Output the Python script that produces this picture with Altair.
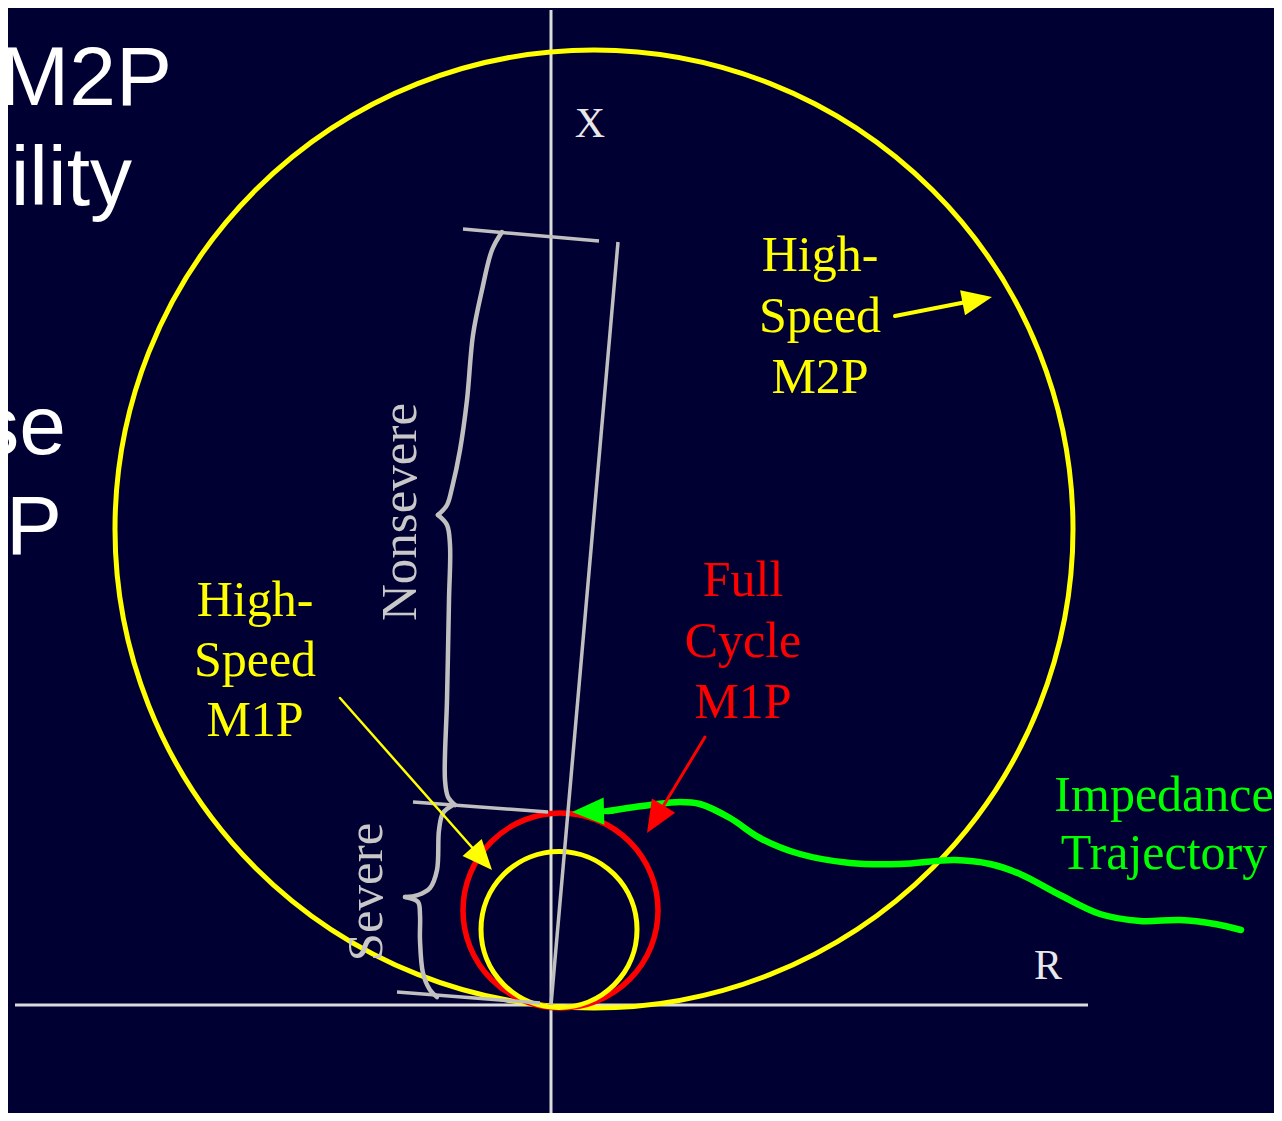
import math
import altair as alt
import pandas as pd

BG = "#000033"
YELLOW = "#ffff00"
RED = "#ff0000"
GREEN = "#00ff00"
GRAY = "#c0c0c0"
AXIS = "#dcdcdc"

# ---- geometry (pixel units, y grows downward) ----
circle_names = ["M2P", "FullCycleM1P", "HighSpeedM1P"]
circle_cx = [594, 560.5, 559]
circle_cy = [529, 910.5, 929.5]
circle_r = [479, 97.5, 78]
circle_color = [YELLOW, RED, YELLOW]
circle_width = [5, 5.5, 5]

# axes
axis_x0 = [15, 551]
axis_y0 = [1005, 10]
axis_x1 = [1088, 551]
axis_y1 = [1005, 1121]

# slanted line and ticks
seg_x0 = [551, 463, 413, 397]
seg_y0 = [1005, 229, 802, 992]
seg_x1 = [618, 599, 548, 540]
seg_y1 = [242, 241, 812, 1003]

# curly braces (four halves)
brace_parts = {
    "ns_top": [(502, 232), (492, 250), (482, 290), (473, 335), (467, 400),
               (460, 450), (452, 488), (447, 505), (438, 515)],
    "ns_bot": [(438, 515), (447, 525), (450, 545), (449, 600), (447, 700),
               (445, 780), (448, 797), (455, 805)],
    "sv_top": [(453, 805), (443, 813), (439, 830), (437, 870), (430, 888),
               (418, 895), (405, 897)],
    "sv_bot": [(405, 897), (418, 902), (420, 915), (420, 940), (423, 973),
               (430, 990), (437, 997)],
}

# impedance trajectory (from right end toward arrow)
traj_x = [1241, 1215, 1180, 1140, 1100, 1060, 1020, 990, 955, 900,
          850, 800, 760, 730, 700, 680, 650, 608]
traj_y = [930, 924, 920, 921, 914, 895, 874, 864, 860, 864,
          863, 854, 838, 818, 804, 802, 805, 811]

# arrows: tail, tip, colour, stroke width, head length
arrow_tail_x = [895, 340, 705, 612]
arrow_tail_y = [316, 698, 737, 811]
arrow_tip_x = [992, 492, 647, 572]
arrow_tip_y = [297, 870, 833, 812]
arrow_color = [YELLOW, YELLOW, RED, GREEN]
arrow_width = [4, 2.5, 3, 6]
arrow_head = [30, 30, 32, 32]

# labels
lbl_text = ["High-", "Speed", "M2P",
            "High-", "Speed", "M1P",
            "Full", "Cycle", "M1P",
            "Impedance", "Trajectory"]
lbl_x = [820, 820, 820, 255, 255, 255, 743, 743, 743, 1164, 1164]
lbl_y = [256, 317, 378, 601, 661, 721, 581, 642, 703, 796, 854]
lbl_color = [YELLOW] * 6 + [RED] * 3 + [GREEN] * 2

axis_lbl_text = ["X", "R"]
axis_lbl_x = [590, 1048]
axis_lbl_y = [124, 966]

rot_text = ["Nonsevere", "Severe"]
rot_x = [401, 367]
rot_y = [512, 892]

side_text = ["M2P", "bility", "se", "SP"]
side_x = [172, 132, 66, 62]
side_y = [105, 205, 454, 554]

# ---- build layers ----
X = alt.Scale(domain=[8, 1274], nice=False, zero=False)
Y = alt.Scale(domain=[8, 1113], nice=False, zero=False, reverse=True)


def xy(x="x", y="y"):
    return dict(x=alt.X(f"{x}:Q", scale=X, axis=None),
                y=alt.Y(f"{y}:Q", scale=Y, axis=None))


layers = []

# left slide text (cut by the edge)
side_df = pd.DataFrame({"t": side_text, "x": side_x, "y": side_y})
layers.append(alt.Chart(side_df).mark_text(font="Liberation Sans", fontSize=84, color="#ffffff",
                                           align="right", baseline="alphabetic", clip=True).encode(
    **xy(), text="t:N"))

# axes
ax_df = pd.DataFrame({"x": axis_x0, "y": axis_y0, "x2": axis_x1, "y2": axis_y1})
layers.append(alt.Chart(ax_df).mark_rule(color=AXIS, strokeWidth=3).encode(
    **xy(), x2="x2:Q", y2="y2:Q"))

# circles
for i in range(len(circle_names)):
    cdf = pd.DataFrame({"x": [circle_cx[i]], "y": [circle_cy[i]], "s": [(2 * circle_r[i]) ** 2]})
    layers.append(alt.Chart(cdf).mark_point(shape="circle", filled=False, opacity=1,
                                            color=circle_color[i], strokeWidth=circle_width[i]).encode(
        **xy(), size=alt.Size("s:Q", scale=None)))

# slanted line + ticks
seg_df = pd.DataFrame({"x": seg_x0, "y": seg_y0, "x2": seg_x1, "y2": seg_y1})
layers.append(alt.Chart(seg_df).mark_rule(color=GRAY, strokeWidth=3.5).encode(
    **xy(), x2="x2:Q", y2="y2:Q"))

# braces
rows = []
for k, pts in brace_parts.items():
    for j, (px, py) in enumerate(pts):
        rows.append({"part": k, "i": j, "x": px, "y": py})
brace_df = pd.DataFrame(rows)
layers.append(alt.Chart(brace_df).mark_line(color=GRAY, strokeWidth=4.5, interpolate="catmull-rom",
                                            strokeCap="round", strokeJoin="round").encode(
    **xy(), detail="part:N", order="i:Q"))

# trajectory
traj_df = pd.DataFrame({"x": traj_x, "y": traj_y, "i": list(range(len(traj_x)))})
layers.append(alt.Chart(traj_df).mark_line(color=GREEN, strokeWidth=6.5, interpolate="catmull-rom",
                                           strokeCap="round", strokeJoin="round").encode(
    **xy(), order="i:Q"))

# arrows
for i in range(len(arrow_tip_x)):
    dx = arrow_tip_x[i] - arrow_tail_x[i]
    dy = arrow_tip_y[i] - arrow_tail_y[i]
    L = math.hypot(dx, dy)
    ux, uy = dx / L, dy / L
    h = arrow_head[i]
    sdf = pd.DataFrame({"x": [arrow_tail_x[i]], "y": [arrow_tail_y[i]],
                        "x2": [arrow_tip_x[i] - ux * h * 0.7], "y2": [arrow_tip_y[i] - uy * h * 0.7]})
    layers.append(alt.Chart(sdf).mark_rule(color=arrow_color[i], strokeWidth=arrow_width[i],
                                           strokeCap="round").encode(**xy(), x2="x2:Q", y2="y2:Q"))
    ang = math.degrees(math.atan2(ux, -uy)) % 360
    hdf = pd.DataFrame({"x": [arrow_tip_x[i] - ux * h / 2], "y": [arrow_tip_y[i] - uy * h / 2],
                        "a": [ang], "s": [h * h]})
    layers.append(alt.Chart(hdf).mark_point(
        shape="M0,-1L0.85,1L-0.85,1Z", filled=True, opacity=1, strokeWidth=0,
        color=arrow_color[i]).encode(
        **xy(), angle=alt.Angle("a:Q", scale=None), size=alt.Size("s:Q", scale=None)))

# labels
lbl_df = pd.DataFrame({"t": lbl_text, "x": lbl_x, "y": lbl_y, "c": lbl_color})
layers.append(alt.Chart(lbl_df).mark_text(font="Liberation Serif", fontSize=50,
                                          align="center", baseline="middle").encode(
    **xy(), text="t:N", color=alt.Color("c:N", scale=None)))

axl_df = pd.DataFrame({"t": axis_lbl_text, "x": axis_lbl_x, "y": axis_lbl_y})
layers.append(alt.Chart(axl_df).mark_text(font="Liberation Serif", fontSize=42, color="#e8e8e8",
                                          align="center", baseline="middle").encode(**xy(), text="t:N"))

rot_df = pd.DataFrame({"t": rot_text, "x": rot_x, "y": rot_y})
layers.append(alt.Chart(rot_df).mark_text(font="Liberation Serif", fontSize=51, color="#c8c8c8",
                                          angle=270, align="center", baseline="middle").encode(
    **xy(), text="t:N"))

chart = alt.layer(*layers).properties(
    width=1266, height=1105, background=BG, padding=0,
    autosize=alt.AutoSizeParams(type="none"),
).configure_view(stroke=None, fill=BG)

chart.save("out.html", embed_options={"renderer": "svg", "actions": False})
